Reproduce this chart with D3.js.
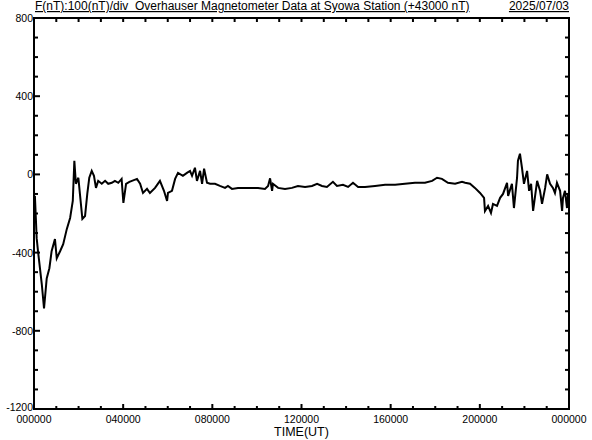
<!DOCTYPE html>
<html>
<head>
<meta charset="utf-8">
<script src="https://cdn.jsdelivr.net/npm/d3@7/dist/d3.min.js"></script>
<style>
  body { margin: 0; background: #fff; }
  text { font-family: "Liberation Sans", Arial, sans-serif; fill: #000; }
</style>
</head>
<body>
<div id="chart"></div>
<script>
// hours (UT) and F - 43000 nT
var hours = [0.04, 0.12, 0.18, 0.35, 0.45, 0.57, 0.69, 0.79, 0.94, 1.02, 1.17, 1.31, 1.47, 1.62, 1.74,
  1.81, 1.88, 1.99, 2.06, 2.17, 2.29, 2.39, 2.48, 2.59, 2.69, 2.78, 2.88, 3.04, 3.19, 3.33, 3.49,
  3.63, 3.78, 3.93, 4.01, 4.13, 4.28, 4.62, 4.76, 4.89, 5.07, 5.20, 5.43, 5.65, 5.83, 5.97, 6.01,
  6.19, 6.33, 6.46, 6.68, 6.86, 7.00, 7.09, 7.22, 7.31, 7.45, 7.54, 7.63, 7.76, 7.90, 8.12, 8.34,
  8.57, 8.70, 8.88, 9.15, 9.60, 10.05, 10.36, 10.50, 10.59, 10.68, 10.72, 10.95, 11.26, 11.57,
  11.84, 12.16, 12.47, 12.70, 12.92, 13.14, 13.41, 13.59, 13.86, 14.09, 14.31, 14.54, 14.85,
  15.30, 15.75, 16.20, 16.64, 17.09, 17.54, 17.86, 18.08, 18.30, 18.57, 18.89, 19.20, 19.34,
  19.56, 19.78, 20.01, 20.19, 20.23, 20.37, 20.50, 20.59, 20.77, 20.91, 21.04, 21.22, 21.27,
  21.44, 21.53, 21.67, 21.71, 21.80, 21.89, 21.98, 22.12, 22.21, 22.30, 22.39, 22.48, 22.57,
  22.70, 22.79, 22.93, 23.02, 23.15, 23.28, 23.37, 23.46, 23.60, 23.69, 23.73, 23.82, 23.91, 23.96];
var fValues = [-110, -326, -393, -562, -686, -532, -480, -393, -331, -429, -393, -357, -280, -223, -136,
  70, -48, -17, -100, -228, -213, -100, -17, 18, -7, -69, -33, -48, -33, -48, -43,
  -33, -43, -23, -146, -48, -38, -23, -48, -95, -74, -95, -69, -33, -84, -136, -95,
  -84, -23, 8, -7, 8, 18, -7, 34, -33, 18, -48, 29, -43, -48, -48, -59,
  -69, -59, -74, -69, -69, -69, -74, -59, -20, -84, -48, -69, -74, -69,
  -59, -64, -59, -48, -59, -64, -38, -59, -53, -64, -43, -64, -64,
  -59, -53, -53, -48, -43, -43, -33, -17, -23, -43, -48, -38, -43,
  -48, -69, -95, -120, -187, -161, -197, -151, -161, -120, -100, -43, -110,
  -48, -172, -17, 70, 106, 34, -48, 18, -84, -48, -187, -110, -33,
  -84, -151, -69, 0, -48, -69, -95, -43, -84, -187, -120, -84, -172, -100];

var xTickHours = [0, 4, 8, 12, 16, 20, 24];
var xTickLabels = ["000000", "040000", "080000", "120000", "160000", "200000", "000000"];
var yTickValues = [800, 400, 0, -400, -800, -1200];

var W = 592, H = 440;
var margin = {top: 18, right: 23, bottom: 31, left: 34};
var width = W - margin.left - margin.right,
    height = H - margin.top - margin.bottom;

var svg = d3.select("#chart").append("svg")
    .attr("width", W)
    .attr("height", H)
  .append("g")
    .attr("transform", "translate(" + margin.left + "," + margin.top + ")");

var x = d3.scaleLinear().domain([0, 24]).range([0, width]);
var y = d3.scaleLinear().domain([-1200, 800]).range([height, 0]);

// hourly ticks on top/bottom, 100 nT ticks on left/right
var hourTicks = d3.range(0, 25);
var nTTicks = d3.range(-1200, 801, 100);

function tickLen(isMajor) { return isMajor ? 5 : 3; }

svg.selectAll(".tb").data(hourTicks).enter().append("line")
    .attr("x1", function(d) { return x(d); })
    .attr("x2", function(d) { return x(d); })
    .attr("y1", height)
    .attr("y2", function(d) { return height - tickLen(d % 4 == 0); })
    .attr("stroke", "#000").attr("stroke-width", 2);

svg.selectAll(".tt").data(hourTicks).enter().append("line")
    .attr("x1", function(d) { return x(d); })
    .attr("x2", function(d) { return x(d); })
    .attr("y1", 0)
    .attr("y2", 4)
    .attr("stroke", "#000").attr("stroke-width", 2);

svg.selectAll(".tl").data(nTTicks).enter().append("line")
    .attr("x1", 0)
    .attr("x2", function(d) { return tickLen(d % 400 == 0) + 1; })
    .attr("y1", function(d) { return y(d); })
    .attr("y2", function(d) { return y(d); })
    .attr("stroke", "#000").attr("stroke-width", 2);

svg.selectAll(".tr").data(nTTicks).enter().append("line")
    .attr("x1", width)
    .attr("x2", width - 4)
    .attr("y1", function(d) { return y(d); })
    .attr("y2", function(d) { return y(d); })
    .attr("stroke", "#000").attr("stroke-width", 2);

// frame
svg.append("rect")
    .attr("width", width).attr("height", height)
    .attr("fill", "none").attr("stroke", "#000").attr("stroke-width", 2);

// tick labels
svg.selectAll(".xl").data(xTickHours).enter().append("text")
    .attr("x", function(d) { return x(d); })
    .attr("y", height + 14)
    .attr("text-anchor", "middle")
    .style("font-size", "10.5px")
    .text(function(d, i) { return xTickLabels[i]; });

svg.selectAll(".yl").data(yTickValues).enter().append("text")
    .attr("x", -1)
    .attr("y", function(d) { return y(d) + (d == -1200 ? 2 : 4); })
    .attr("text-anchor", "end")
    .style("font-size", "10.5px")
    .text(function(d) { return d; });

svg.append("text")
    .attr("x", width / 2)
    .attr("y", height + 27)
    .attr("text-anchor", "middle")
    .style("font-size", "12.5px")
    .text("TIME(UT)");

// title + date
svg.append("text")
    .attr("x", 1)
    .attr("y", -8)
    .style("font-size", "12px")
    .style("text-decoration", "underline")
    .attr("xml:space", "preserve")
    .text("F(nT):100(nT)/div  Overhauser Magnetometer Data at Syowa Station (+43000 nT)");

svg.append("text")
    .attr("x", width)
    .attr("y", -8)
    .attr("text-anchor", "end")
    .style("font-size", "12px")
    .style("text-decoration", "underline")
    .text("2025/07/03");

// data trace
var line = d3.line()
    .x(function(d) { return x(d[0]); })
    .y(function(d) { return y(d[1]); });

svg.append("path")
    .datum(d3.zip(hours, fValues))
    .attr("fill", "none")
    .attr("stroke", "#000")
    .attr("stroke-width", 2)
    .attr("d", line);
</script>
</body>
</html>
